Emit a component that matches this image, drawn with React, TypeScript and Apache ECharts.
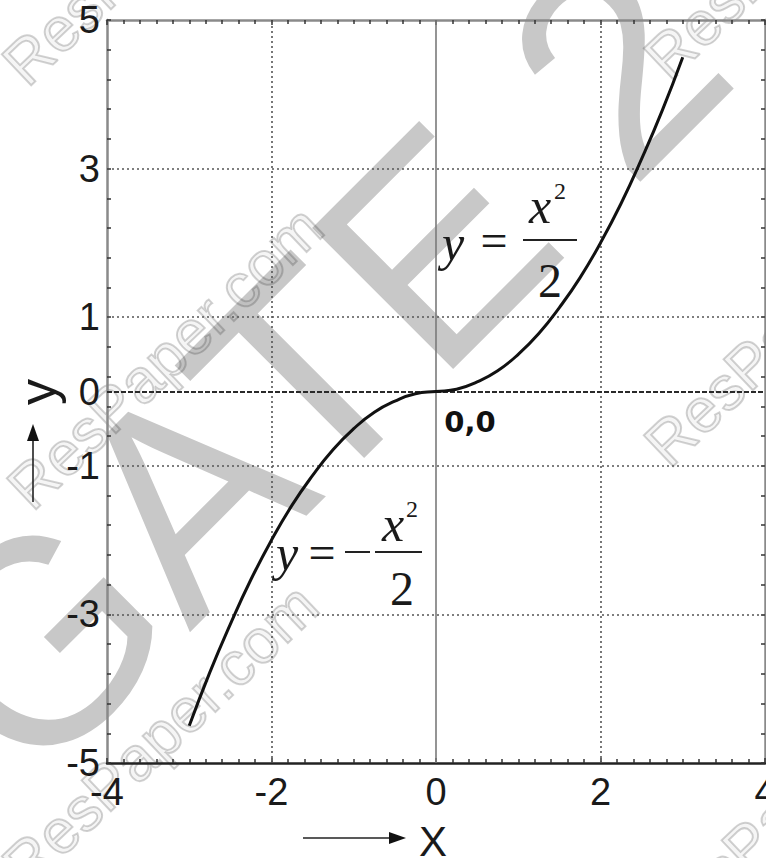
import { useEffect, useRef } from "react";
import * as echarts from "echarts";

// Curve y = x|x|/2 (x from -3 to 3)
const curveX = [-3, -2.75, -2.5, -2.25, -2, -1.75, -1.5, -1.25, -1, -0.75, -0.5, -0.25, 0, 0.25, 0.5, 0.75, 1, 1.25, 1.5, 1.75, 2, 2.25, 2.5, 2.75, 3];
const curveY = [-4.5, -3.78, -3.13, -2.53, -2, -1.53, -1.13, -0.78, -0.5, -0.28, -0.13, -0.03, 0, 0.03, 0.13, 0.28, 0.5, 0.78, 1.13, 1.53, 2, 2.53, 3.13, 3.78, 4.5];

const xRange = [-4, 4];
const xLabelStep = 2;
const xMinorDivisions = 10;
const yRange = [-5, 5];
const yLabelValues = [5, 3, 1, 0, -1, -3, -5];
const yMinorStep = 0.4;
const hGridValues = [3, 1, -1, -3];
const vGridValues = [-2, 2];
const originLabel = "0,0";
const xName = "X";
const yName = "y";

const SANS = '"Liberation Sans", Arial, sans-serif';
const SERIF = '"Liberation Serif", "Times New Roman", serif';

export default function App() {
  const ref = useRef<HTMLDivElement>(null);
  useEffect(() => {
    document.body.style.margin = "0";
    const chart = echarts.init(ref.current!, undefined, { renderer: "svg" });
    const yTickCount = (yRange[1] - yRange[0]) / yMinorStep;

    const tickAxisY = (position: string, showLine: boolean) => ({
      type: "value",
      min: 0,
      max: yTickCount,
      interval: 1,
      position,
      axisLine: { show: showLine, onZero: false, lineStyle: { color: "#8a8a8a", width: 2.5 } },
      axisTick: { show: true, inside: true, length: 4, lineStyle: { color: "#333", width: 1.5 } },
      axisLabel: { show: false },
      splitLine: { show: false },
    });

    const xAxisBase = (position: string, showLabels: boolean, lineColor: string) => ({
      type: "value",
      min: xRange[0],
      max: xRange[1],
      interval: xLabelStep,
      position,
      axisLine: { show: true, onZero: false, lineStyle: { color: lineColor, width: 2.5 } },
      axisTick: { show: true, inside: true, length: 5, lineStyle: { color: "#333", width: 1.5 } },
      minorTick: { show: true, splitNumber: xMinorDivisions, length: 4, lineStyle: { color: "#333", width: 1.5 } },
      axisLabel: {
        show: showLabels,
        fontSize: 38,
        fontFamily: SANS,
        color: "#1a1a1a",
        margin: 10,
        showMinLabel: true,
        showMaxLabel: true,
      },
      splitLine: { show: false },
      minorSplitLine: { show: false },
    });

    const dotted = { color: "#555", width: 1.6, type: [2, 3] };
    const markData: any[] = [];
    hGridValues.forEach((v) => markData.push({ yAxis: v, lineStyle: dotted }));
    vGridValues.forEach((v) => markData.push({ xAxis: v, lineStyle: dotted }));
    markData.push({ xAxis: 0, lineStyle: { color: "#7a7a7a", width: 1.6, type: "solid" } });
    markData.push({ yAxis: 0, lineStyle: { color: "#2a2a2a", width: 1.8, type: [5, 2] } });

    const wmStyle = {
      fontSize: 62,
      fontFamily: SANS,
      fill: "rgba(0,0,0,0.04)",
      stroke: "rgba(0,0,0,0.18)",
      lineWidth: 2,
      textAlign: "center",
      textVerticalAlign: "middle",
    };
    const wmCenters = [
      [160, -67],
      [165, 357],
      [160, 735],
      [802, -73],
      [802, 314],
      [800, 795],
    ];

    const option: any = {
      animation: false,
      backgroundColor: "#ffffff",
      grid: { left: 107, right: 1, top: 20, bottom: 95, containLabel: false, outerBoundsMode: "none" },
      xAxis: [xAxisBase("bottom", true, "#222"), xAxisBase("top", false, "#8a8a8a")],
      yAxis: [
        {
          type: "value",
          min: yRange[0],
          max: yRange[1],
          interval: 1,
          position: "left",
          axisLine: { show: true, onZero: false, lineStyle: { color: "#8a8a8a", width: 2.5 } },
          axisTick: { show: false },
          axisLabel: {
            fontSize: 38,
            fontFamily: SANS,
            color: "#1a1a1a",
            margin: 7,
            showMinLabel: true,
            showMaxLabel: true,
            formatter: (v: number) => (yLabelValues.includes(v) ? String(v) : ""),
          },
          splitLine: { show: false },
        },
        tickAxisY("left", false),
        tickAxisY("right", true),
      ],
      series: [
        {
          type: "line",
          xAxisIndex: 0,
          yAxisIndex: 0,
          data: curveX.map((x, i) => [x, curveY[i]]),
          smooth: true,
          showSymbol: false,
          symbol: "none",
          lineStyle: { color: "#111", width: 3 },
          z: 10,
          markLine: {
            silent: true,
            symbol: ["none", "none"],
            label: { show: false },
            z: 3,
            data: markData,
          },
        },
      ],
      graphic: [
        // big watermark
        {
          type: "text",
          x: 316,
          y: 364,
          rotation: Math.PI / 4,
          z: -10,
          silent: true,
          style: {
            text: "GATE 2",
            fontSize: 290,
            fontFamily: SANS,
            fill: "#c8c8c8",
            textAlign: "center",
            textVerticalAlign: "middle",
          },
        },
        ...wmCenters.map((c) => ({
          type: "text",
          x: c[0],
          y: c[1],
          rotation: 0.76,
          z: -9,
          silent: true,
          style: { ...wmStyle, text: "ResPaper.com" },
        })),
        // y axis name + arrow
        {
          type: "text",
          x: 37,
          y: 392,
          rotation: Math.PI / 2,
          z: 20,
          style: { text: yName, fontSize: 52, fontFamily: SANS, fill: "#1a1a1a", textAlign: "center", textVerticalAlign: "middle" },
        },
        { type: "line", z: 20, shape: { x1: 33, y1: 502, x2: 33, y2: 438 }, style: { stroke: "#222", lineWidth: 1.6 } },
        { type: "polygon", z: 20, shape: { points: [[33, 424], [27, 441], [39, 441]] }, style: { fill: "#111" } },
        // x axis name + arrow
        {
          type: "text",
          x: 433,
          y: 841,
          z: 20,
          style: { text: xName, fontSize: 42, fontFamily: SANS, fill: "#1a1a1a", textAlign: "center", textVerticalAlign: "middle" },
        },
        { type: "line", z: 20, shape: { x1: 303, y1: 838, x2: 392, y2: 838 }, style: { stroke: "#222", lineWidth: 1.6 } },
        { type: "polygon", z: 20, shape: { points: [[406, 838], [389, 832], [389, 844]] }, style: { fill: "#111" } },
        // origin label
        {
          type: "text",
          x: 470,
          y: 422,
          z: 20,
          style: { text: originLabel, fontSize: 29, fontWeight: "bold", fontFamily: '"DejaVu Sans", Verdana, sans-serif', fill: "#111", textAlign: "center", textVerticalAlign: "middle" },
        },
        // equation 1: y = x^2 / 2
        { type: "text", x: 453, y: 243, z: 20, style: { text: "y", fontSize: 50, fontStyle: "italic", fontFamily: SERIF, fill: "#1a1a1a", textAlign: "center", textVerticalAlign: "middle" } },
        { type: "text", x: 494, y: 240, z: 20, style: { text: "=", fontSize: 48, fontFamily: SERIF, fill: "#1a1a1a", textAlign: "center", textVerticalAlign: "middle" } },
        { type: "line", z: 20, shape: { x1: 523, y1: 240, x2: 577, y2: 240 }, style: { stroke: "#222", lineWidth: 2 } },
        { type: "text", x: 540, y: 206, z: 20, style: { text: "x", fontSize: 50, fontStyle: "italic", fontFamily: SERIF, fill: "#1a1a1a", textAlign: "center", textVerticalAlign: "middle" } },
        { type: "text", x: 560, y: 191, z: 20, style: { text: "2", fontSize: 24, fontFamily: SERIF, fill: "#1a1a1a", textAlign: "center", textVerticalAlign: "middle" } },
        { type: "text", x: 550, y: 280, z: 20, style: { text: "2", fontSize: 48, fontFamily: SERIF, fill: "#1a1a1a", textAlign: "center", textVerticalAlign: "middle" } },
        // equation 2: y = - x^2 / 2
        { type: "text", x: 287, y: 553, z: 20, style: { text: "y", fontSize: 50, fontStyle: "italic", fontFamily: SERIF, fill: "#1a1a1a", textAlign: "center", textVerticalAlign: "middle" } },
        { type: "text", x: 322, y: 552, z: 20, style: { text: "=", fontSize: 48, fontFamily: SERIF, fill: "#1a1a1a", textAlign: "center", textVerticalAlign: "middle" } },
        { type: "line", z: 20, shape: { x1: 345, y1: 552, x2: 370, y2: 552 }, style: { stroke: "#222", lineWidth: 2 } },
        { type: "line", z: 20, shape: { x1: 375, y1: 552, x2: 422, y2: 552 }, style: { stroke: "#222", lineWidth: 2 } },
        { type: "text", x: 393, y: 524, z: 20, style: { text: "x", fontSize: 50, fontStyle: "italic", fontFamily: SERIF, fill: "#1a1a1a", textAlign: "center", textVerticalAlign: "middle" } },
        { type: "text", x: 412, y: 509, z: 20, style: { text: "2", fontSize: 24, fontFamily: SERIF, fill: "#1a1a1a", textAlign: "center", textVerticalAlign: "middle" } },
        { type: "text", x: 402, y: 588, z: 20, style: { text: "2", fontSize: 48, fontFamily: SERIF, fill: "#1a1a1a", textAlign: "center", textVerticalAlign: "middle" } },
      ],
    };
    chart.setOption(option);
    return () => chart.dispose();
  }, []);
  return (
    <div
      ref={ref}
      style={{ position: "fixed", left: 0, top: 0, width: 766, height: 858, background: "#fff" }}
    />
  );
}
